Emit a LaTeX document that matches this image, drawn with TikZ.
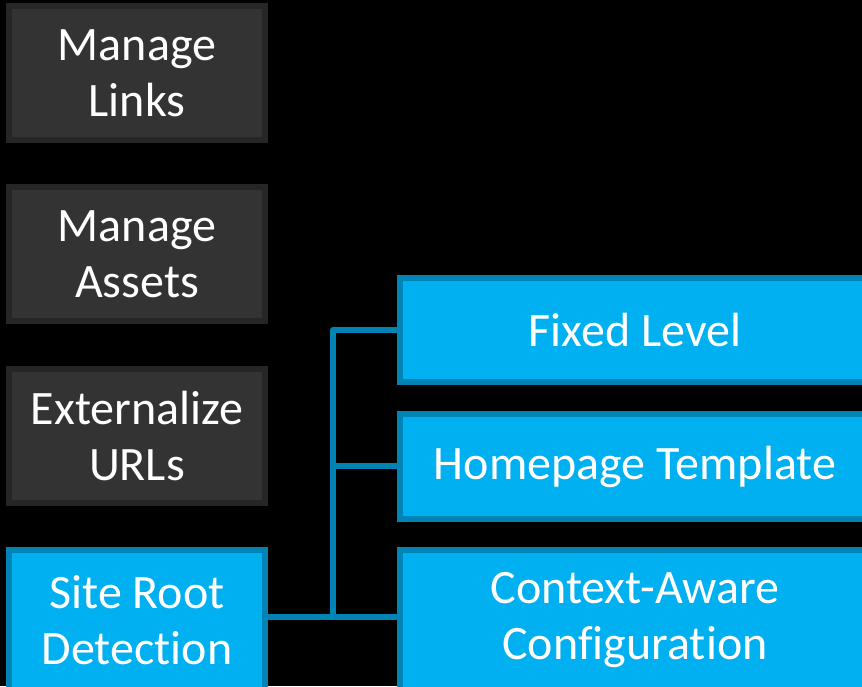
\documentclass[tikz,border=0pt]{standalone}
\usepackage{fontspec}
\setmainfont[Ligatures=NoCommon]{Carlito}
\definecolor{darkbox}{HTML}{333333}
\definecolor{darkedge}{HTML}{262626}
\definecolor{bluebox}{HTML}{00B0F0}
\definecolor{blueedge}{HTML}{0083B5}
\begin{document}
\begin{tikzpicture}[x=1pt, y=1pt,
    greybox/.style={draw=darkedge, line width=6pt, fill=darkbox, text=white, align=center,
      minimum width=256pt, minimum height=134pt, font=\fontsize{48}{56}\selectfont},
    featbox/.style={draw=blueedge, line width=6pt, fill=bluebox, text=white, align=center,
      minimum width=470pt, minimum height=104pt, font=\fontsize{48}{56}\selectfont},
    link/.style={draw=blueedge, line width=6pt, line join=round}]
  \fill[black] (0,0) rectangle (862,686);
  \clip (0,0) rectangle (862,686);

  \node[greybox] (links) at (137,613) {Manage\\Links};
  \node[greybox] (assets) at (137,431.5) {Manage\\Assets};
  \node[greybox] (urls) at (137,250) {Externalize\\URLs};
  \node[greybox, fill=bluebox, draw=blueedge, minimum height=140pt] (root) at (137,66) {Site Root\\Detection};

  \node[featbox] (fixed) at (635,356) {Fixed Level};
  \node[featbox] (home) at (635,219.5) {Homepage Template};
  \node[featbox, minimum height=140pt] (ctx) at (635,66) {Context-Aware\\Configuration};

  \coordinate (split) at (333,69);
  \draw[link] (root.east |- split) -- (ctx.west |- split);
  \draw[link] (split) |- (fixed);
  \draw[link] (split |- home) -- (home);
\end{tikzpicture}
\end{document}
